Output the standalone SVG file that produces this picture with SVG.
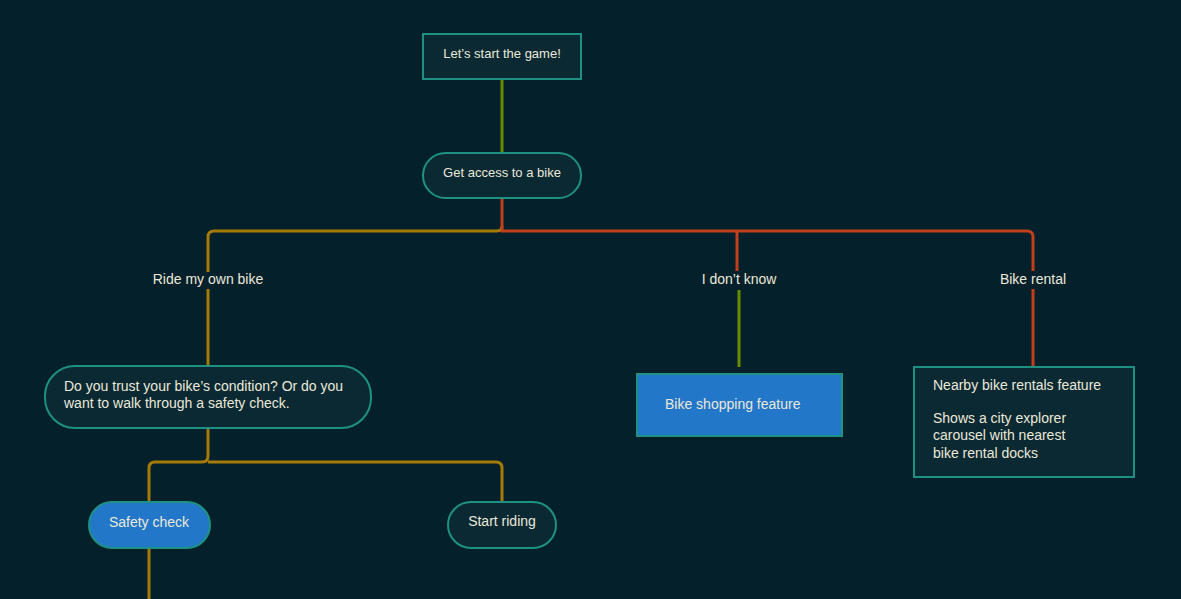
<svg xmlns="http://www.w3.org/2000/svg" width="1181" height="599" viewBox="0 0 1181 599">
<style>
.bg{fill:#04202a}
.node{fill:#0a2932;stroke:#1f9183;stroke-width:2}
.blue{fill:#2277c8;stroke:#1f9183;stroke-width:2}
.t{font-family:"Liberation Sans",Arial,sans-serif;fill:#ebe8da;font-size:14px}
.s{font-size:13px}
.c{text-anchor:middle}
.gold{stroke:#a67a06;fill:none;stroke-width:3}
.red{stroke:#c23f1b;fill:none;stroke-width:3}
.green{stroke:#6b8a00;fill:none;stroke-width:3}
</style>
<rect class="bg" x="0" y="0" width="1181" height="599"/>
<g id="connectors">
<path class="green" d="M502 79 V153"/>
<path class="gold" d="M502 226 Q502 231 497 231 H214 Q208 231 208 237 V272 M208 289 V366"/>
<path class="red" d="M502 198 V231 H1027 Q1033 231 1033 237 V271 M737 231 V271 M1033 289 V366"/>
<path class="green" d="M739 290 V367"/>
<path class="gold" d="M208 428 V456 Q208 462 202 462 H155 Q149 462 149 468 V502 M208 462 H496 Q502 462 502 468 V502 M149 548 V599"/>
<text class="t c" x="208" y="284">Ride my own bike</text>
<text class="t c" x="739" y="284">I don’t know</text>
<text class="t c" x="1033" y="284">Bike rental</text>
</g>
<g id="start">
<rect class="node" x="423" y="34" width="158" height="45"/>
<text class="t s c" x="502" y="58">Let’s start the game!</text>
</g>
<g id="access">
<rect class="node" x="423" y="153" width="158" height="45" rx="22.5"/>
<text class="t s c" x="502" y="177">Get access to a bike</text>
</g>
<g id="question">
<rect class="node" x="45" y="366" width="326" height="62" rx="30"/>
<text class="t" x="64" y="391">Do you trust your bike’s condition? Or do you</text>
<text class="t" x="64" y="408">want to walk through a safety check.</text>
</g>
<g id="safety">
<rect class="blue" x="89" y="502" width="121" height="46" rx="23"/>
<text class="t c" x="149" y="527">Safety check</text>
</g>
<g id="riding">
<rect class="node" x="448" y="502" width="108" height="46" rx="23"/>
<text class="t c" x="502" y="526">Start riding</text>
</g>
<g id="shopping">
<rect class="blue" x="637" y="374" width="205" height="62"/>
<text class="t" x="665" y="409">Bike shopping feature</text>
</g>
<g id="rentals">
<rect class="node" x="914" y="367" width="220" height="110"/>
<text class="t" x="933" y="390">Nearby bike rentals feature</text>
<text class="t" x="933" y="423">Shows a city explorer</text>
<text class="t" x="933" y="440">carousel with nearest</text>
<text class="t" x="933" y="458">bike rental docks</text>
</g>
</svg>
